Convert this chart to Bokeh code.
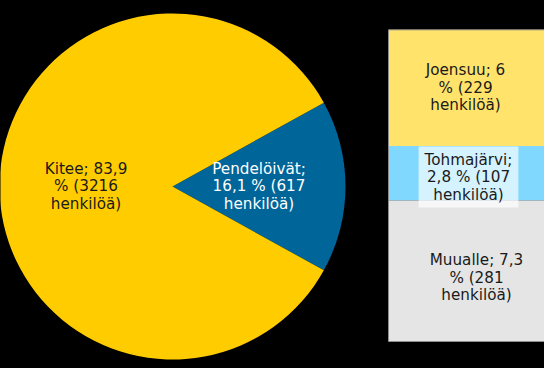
import numpy as np
from bokeh.plotting import figure
from bokeh.models import Range1d, ColumnDataSource, GlobalInlineStyleSheet
from bokeh.core.properties import value
from bokeh.embed import file_html
from bokeh.resources import INLINE

# ---- data ----
pie_names = ["Pendelöivät", "Kitee"]
pie_pct = [16.1, 83.9]
pie_count = [617, 3216]
pie_labels = ["Pendelöivät;\n16,1 % (617\nhenkilöä)", "Kitee; 83,9\n% (3216\nhenkilöä)"]

bar_names = ["Muualle", "Tohmajärvi", "Joensuu"]          # bottom -> top
bar_pct = [7.3, 2.8, 6.0]
bar_count = [281, 107, 229]
bar_labels = ["Muualle; 7,3\n% (281\nhenkilöä)",
              "Tohmajärvi;\n2,8 % (107\nhenkilöä)",
              "Joensuu; 6\n% (229\nhenkilöä)"]

# ---- styles ----
pie_colors = ["#006699", "#FFCC00"]
pie_text_colors = ["#FFFFFF", "#1A1A1A"]
bar_colors = ["#E5E5E5", "#80D8FF", "#FFE36B"]
bar_label_x = [476, 468, 465]
bar_label_yoff = [7, 4, 0]
FONT = value("DejaVu Sans")
FSIZE = "15.2px"
LH = 0.97

W, H = 544, 368
p = figure(width=W, height=H, x_range=Range1d(0, W), y_range=Range1d(0, H),
           output_backend="svg", toolbar_location=None, min_border=0,
           x_axis_location=None, y_axis_location=None)
p.grid.visible = False
p.outline_line_color = None
p.background_fill_color = "black"
p.border_fill_color = "black"
p.stylesheets = [GlobalInlineStyleSheet(
    css="html, body { background: #000; margin: 0; padding: 0; overflow: hidden; }")]

# ---- pie ----
cx, cy, r = 172, 182, 173
frac = np.array(pie_pct) / sum(pie_pct)
ang = frac * 2 * np.pi
start0 = -ang[0] / 2
ends = start0 + np.cumsum(ang)
starts = ends - ang
pie_src = ColumnDataSource(dict(start=starts, end=ends, color=pie_colors))
p.wedge(x=cx, y=cy, radius=r, start_angle="start", end_angle="end",
        fill_color="color", line_color=None, source=pie_src)

mid = (starts + ends) / 2
lab_src = ColumnDataSource(dict(x=cx + 0.5 * r * np.cos(mid), y=cy + 0.5 * r * np.sin(mid),
                                text=pie_labels, color=pie_text_colors))
p.text(x="x", y="y", text="text", text_color="color", source=lab_src,
       text_font=FONT, text_font_size=FSIZE, text_align="center",
       text_baseline="middle", text_line_height=LH)

# ---- stacked bar (own vertical scale) ----
total = sum(bar_pct)
s = (338.7 - 27) / total
bstart = -27 / s
p.extra_y_ranges = {"bar": Range1d(bstart, bstart + H / s)}
tops = np.cumsum(bar_pct)
bottoms = tops - np.array(bar_pct)
mids = (bottoms + tops) / 2
bar_src = ColumnDataSource(dict(bottom=bottoms, top=tops, color=bar_colors))
p.quad(left=388, right=548, bottom="bottom", top="top", fill_color="color",
       line_color=None, y_range_name="bar", source=bar_src)
p.quad(left=388, right=548, bottom=0, top=total, fill_color=None,
       line_color="#8C8C8C", line_width=1, y_range_name="bar")

plain = [0, 2]
bl_src = ColumnDataSource(dict(x=[bar_label_x[i] for i in plain], y=[mids[i] for i in plain],
                               yoff=[bar_label_yoff[i] for i in plain],
                               text=[bar_labels[i] for i in plain]))
p.text(x="x", y="y", text="text", y_offset="yoff", source=bl_src,
       y_range_name="bar", text_color="#1A1A1A", text_font=FONT,
       text_font_size=FSIZE, text_align="center", text_baseline="middle",
       text_line_height=LH)

# label with a translucent box for the small segment
box_src = ColumnDataSource(dict(x=[bar_label_x[1]], y=[mids[1]], text=[bar_labels[1]]))
p.text(x="x", y="y", text="text", y_offset=bar_label_yoff[1], source=box_src,
       y_range_name="bar", text_color="#1A1A1A", text_font=FONT, text_font_size=FSIZE,
       text_align="center", text_baseline="middle", text_line_height=LH,
       background_fill_color="white", background_fill_alpha=0.67, padding=(6, 4))

open("out.html", "w").write(file_html(p, INLINE))
